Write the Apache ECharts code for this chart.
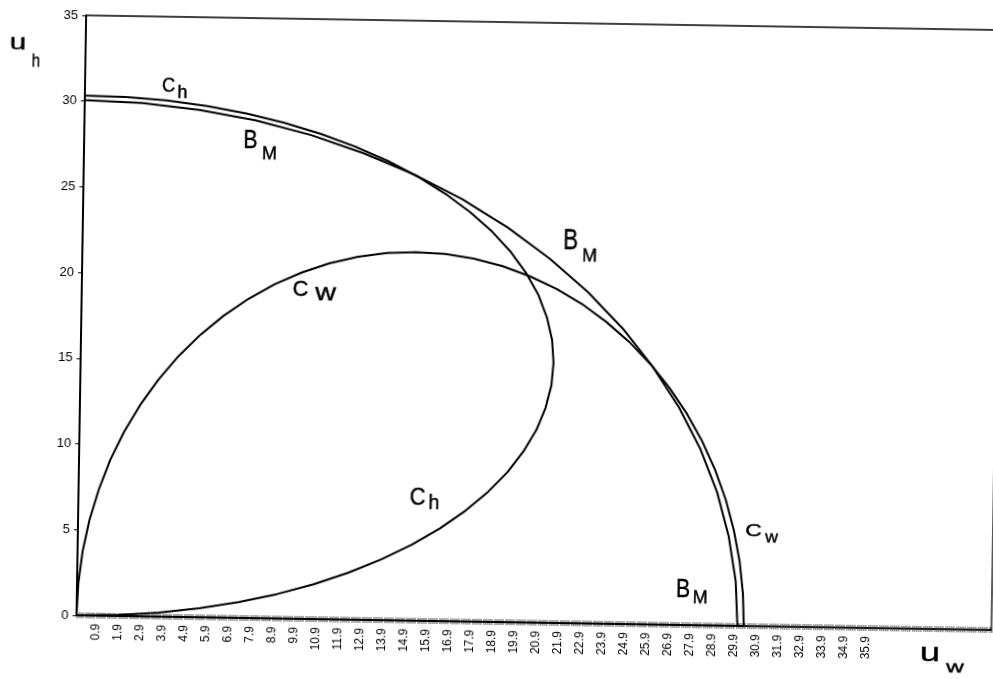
<!DOCTYPE html>
<html>
<head>
<meta charset="utf-8">
<script src="https://cdn.jsdelivr.net/npm/echarts/dist/echarts.min.js"></script>
<style>
html,body{margin:0;padding:0;background:#fff;overflow:hidden;width:993px;height:679px;}
#chart{position:absolute;left:0;top:0;width:1013px;height:679px;transform:rotate(0.92deg);transform-origin:496.5px 339.5px;}
</style>
</head>
<body>
<div id="chart"></div>
<script>
// ---- data ----
const xMin = 0, xMax = 41.6;
const yMin = 0, yMax = 35, yStep = 5;
const xLabelFirst = 0.9, xLabelLast = 35.9; // labels 0.9, 1.9, ... 35.9

// C_w : from origin over the top to the u_w axis
const cwPoints = [
[0,0],[0.06,1.87],[0.23,3.73],[0.52,5.57],[0.92,7.35],[1.42,9.09],[2.03,10.75],[2.74,12.33],[3.55,13.82],[4.44,15.20],[5.42,16.47],[6.47,17.61],[7.59,18.62],[8.76,19.49],[9.98,20.20],[11.24,20.77],[12.54,21.17],[13.85,21.42],[15.17,21.50],[16.49,21.42],[17.80,21.17],[19.10,20.77],[20.36,20.20],[21.58,19.49],[22.76,18.62],[23.87,17.61],[24.92,16.47],[25.90,15.20],[26.79,13.82],[27.60,12.33],[28.31,10.75],[28.92,9.09],[29.43,7.35],[29.82,5.57],[30.11,3.73],[30.28,1.87],[30.34,0]
];
const cwBase = [[30.34,0],[0,0]];

// C_h : from origin along the bottom, round to the u_h axis
const chPoints = [
[0,0],[1.87,0.06],[3.73,0.23],[5.57,0.52],[7.35,0.92],[9.09,1.42],[10.75,2.03],[12.33,2.74],[13.82,3.55],[15.20,4.44],[16.47,5.42],[17.61,6.47],[18.62,7.59],[19.49,8.76],[20.20,9.98],[20.77,11.24],[21.17,12.54],[21.42,13.85],[21.50,15.17],[21.42,16.49],[21.17,17.80],[20.77,19.10],[20.20,20.36],[19.49,21.58],[18.62,22.76],[17.61,23.87],[16.47,24.92],[15.20,25.90],[13.82,26.79],[12.33,27.60],[10.75,28.31],[9.09,28.92],[7.35,29.43],[5.57,29.82],[3.73,30.11],[1.87,30.28],[0,30.32]
];
const chSide = [[0,30.32],[0,0]];

// B_M : frontier
const bmPoints = [
[0,30.05],[2.62,29.94],[5.22,29.59],[7.78,29.03],[10.28,28.24],[12.70,27.23],[15.03,26.02],[17.24,24.62],[19.32,23.02],[21.25,21.25],[23.02,19.32],[24.62,17.24],[26.02,15.03],[27.23,12.70],[28.24,10.28],[29.03,7.78],[29.59,5.22],[29.94,2.62],[30.05,0]
];

// handwritten annotations: [glyph, screenCenterX, screenCenterY, fontSize, scaleX, lowercase]
const notes = [
 ['u', 18, 45, 22, 1.35, true],
 ['h', 36, 61.5, 18, 0.85, false],
 ['C', 168.5, 86, 21, 0.87, false],
 ['h', 182.5, 92.5, 18, 1.0, false],
 ['B', 250.5, 141.5, 25, 0.85, false],
 ['M', 269.5, 154.5, 18, 1.0, false],
 ['B', 570.5, 241, 30, 0.75, false],
 ['M', 589.5, 256.5, 18, 1.0, false],
 ['C', 300.5, 290, 22, 1.0, false],
 ['w', 325.5, 296, 23, 1.25, true],
 ['C', 417.5, 498.5, 23, 0.95, false],
 ['h', 434, 504, 20, 1.0, false],
 ['C', 753.5, 531, 17, 1.35, false],
 ['w', 771.5, 539.5, 17, 1.05, true],
 ['B', 683, 590, 25, 0.85, false],
 ['M', 700, 598.5, 18, 1.0, false],
 ['u', 930, 656, 26, 1.4, true],
 ['w', 955, 669.5, 17, 1.45, true]
];

// ---- chart ----
const TH = 0.92 * Math.PI / 180;
function frame(sx, sy) {
  const dx = sx - 496.5, dy = sy - 339.5, c = Math.cos(TH), s = Math.sin(TH);
  return [dx * c + dy * s + 496.5, -dx * s + dy * c + 339.5];
}
const FONT = 'Liberation Sans, Arial, sans-serif';
const INK = '#000';

const graphic = notes.map(function (n) {
  const p = frame(n[1], n[2] - (n[5] ? 0.09 * n[3] : 0));
  return {
    type: 'text', x: p[0], y: p[1], scaleX: n[4], silent: true,
    style: { text: n[0], fontSize: n[3], fontFamily: FONT, fill: INK, stroke: INK, lineWidth: 0.4, textAlign: 'center', textVerticalAlign: 'middle' }
  };
});

function lineSeries(name, data) {
  return {
    name: name, type: 'line', data: data, showSymbol: false, symbol: 'none',
    smooth: false, xAxisIndex: 0, yAxisIndex: 0,
    lineStyle: { color: INK, width: 2 }, z: 3, animation: false
  };
}

const chart = echarts.init(document.getElementById('chart'), null, { renderer: 'canvas' });
chart.setOption({
  backgroundColor: '#fff',
  animation: false,
  grid: { left: 81, top: 22, right: 17, bottom: 57, show: true, borderColor: INK, borderWidth: 1.3, backgroundColor: 'transparent' },
  xAxis: [
    {
      type: 'value', min: xMin, max: xMax, interval: 0.1,
      axisLine: { show: true, lineStyle: { color: INK, width: 1.8 } },
      axisTick: { show: true, length: 3, lineStyle: { color: '#444', width: 0.9 } },
      splitLine: { show: false },
      axisLabel: {
        rotate: 90, fontSize: 12, margin: 8, color: INK, fontFamily: FONT,
        formatter: function (v) {
          const k = Math.round(v * 10);
          return (k % 10 === 9 && k >= Math.round(xLabelFirst * 10) && k <= Math.round(xLabelLast * 10)) ? (k / 10).toFixed(1) : '';
        }
      }
    },
    {
      type: 'value', min: xMin, max: xMax, interval: 0.1, position: 'bottom',
      axisLine: { show: false },
      axisTick: { show: true, inside: true, length: 3, lineStyle: { color: '#444', width: 0.9 } },
      axisLabel: { show: false }, splitLine: { show: false }
    }
  ],
  yAxis: {
    type: 'value', min: yMin, max: yMax, interval: yStep,
    axisLine: { show: true, lineStyle: { color: INK, width: 1.8 } },
    axisTick: { show: true, length: 4, lineStyle: { color: INK, width: 1 } },
    splitLine: { show: false },
    axisLabel: { fontSize: 13, margin: 8, color: INK, fontFamily: FONT }
  },
  series: [
    lineSeries('C_w', cwPoints),
    lineSeries('C_w base', cwBase),
    lineSeries('C_h', chPoints),
    lineSeries('C_h side', chSide),
    lineSeries('B_M', bmPoints)
  ],
  graphic: graphic
});
</script>
</body>
</html>
